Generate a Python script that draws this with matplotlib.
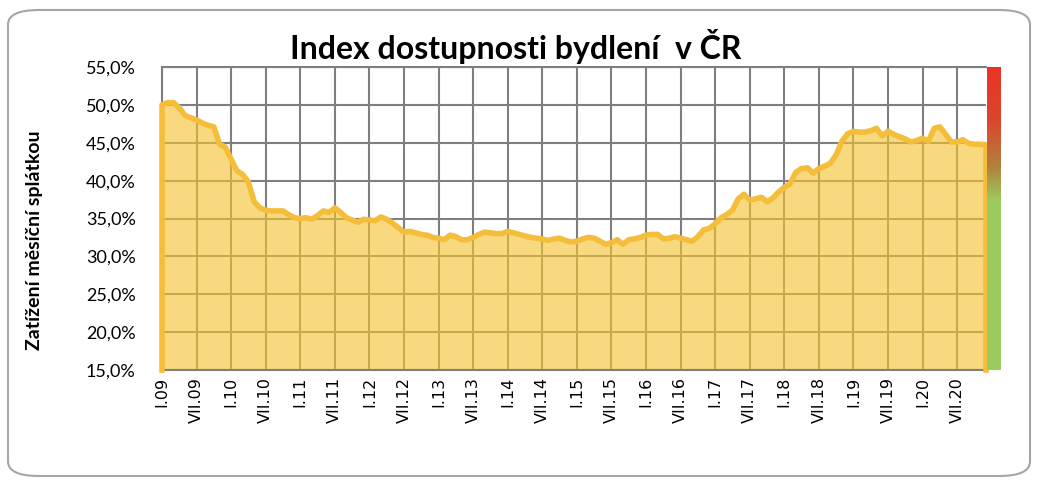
import numpy as np
import matplotlib.pyplot as plt
from matplotlib.colors import LinearSegmentedColormap
from matplotlib.patches import FancyBboxPatch

# monthly index values I.2009 - XII.2020 (%)
values = [
    50.0, 50.3, 50.3, 49.6, 48.6, 48.3, 48.0, 47.6, 47.3, 47.1, 44.8, 44.4,
    42.8, 41.3, 40.8, 39.8, 37.2, 36.4, 36.1, 36.0, 36.0, 36.0, 35.5, 35.1,
    35.0, 35.1, 34.9, 35.4, 36.0, 35.8, 36.4, 35.8, 35.1, 34.8, 34.5, 34.9,
    34.8, 34.7, 35.2, 34.9, 34.4, 33.8, 33.2, 33.3, 33.1, 32.9, 32.8, 32.5,
    32.4, 32.2, 32.8, 32.6, 32.2, 32.2, 32.5, 32.9, 33.2, 33.1, 33.0, 33.0,
    33.3, 33.1, 32.9, 32.7, 32.5, 32.4, 32.3, 32.1, 32.3, 32.4, 32.1, 31.9,
    32.0, 32.3, 32.5, 32.4, 32.0, 31.6, 31.8, 32.2, 31.6, 32.2, 32.3, 32.5,
    32.8, 32.9, 32.9, 32.3, 32.4, 32.6, 32.4, 32.2, 32.0, 32.6, 33.5, 33.7,
    34.3, 35.1, 35.5, 36.1, 37.6, 38.2, 37.4, 37.6, 37.8, 37.2, 37.7, 38.5,
    39.1, 39.6, 41.1, 41.6, 41.7, 41.0, 41.6, 41.9, 42.3, 43.4, 45.2, 46.2,
    46.5, 46.4, 46.4, 46.6, 46.9, 45.9, 46.5, 46.1, 45.8, 45.5, 45.1, 45.3,
    45.6, 45.2, 46.9, 47.1, 46.1, 45.1, 45.1, 45.4, 44.9, 44.8, 44.8, 44.7,
]
years = list(range(9, 21))
tick_labels = []
for y in years:
    tick_labels += [f'I.{y:02d}', f'VII.{y:02d}']
y_ticks = [15, 20, 25, 30, 35, 40, 45, 50, 55]

months = np.arange(len(values))
last = months[-1]

W, H = 1038, 484
fig = plt.figure(figsize=(W / 100, H / 100), dpi=100)

# rounded frame around the whole chart
frame = FancyBboxPatch((8 / W, 8 / H), 1022 / W, 466 / H,
                       boxstyle='round,pad=0,rounding_size=0.03',
                       transform=fig.transFigure, fill=False,
                       edgecolor='#A6A6A6', lw=1.5)
fig.patches.append(frame)

ax = fig.add_axes([162 / W, 1 - 370 / H, 824 / W, 303 / H])

ax.fill_between(months, values, 15, color='#F4C330', alpha=0.62,
                lw=0, zorder=2)
outline_x = np.concatenate([[0], months, [last]])
outline_y = np.concatenate([[15], values, [15]])
ax.plot(outline_x, outline_y, color='#F5BE3A', lw=4,
        solid_joinstyle='round', zorder=3, clip_on=False)

ax.set_xlim(0, last)
ax.set_ylim(15, 55)

ax.set_xticks(np.arange(0, len(tick_labels) * 6, 6))
ax.set_xticklabels(tick_labels, rotation=90, fontsize=11.5,
                   family='DejaVu Sans')
ax.set_yticks(y_ticks)
ax.set_yticklabels([f'{v:.1f}%'.replace('.', ',') for v in y_ticks],
                   fontsize=13, family='Lato')
ax.tick_params(axis='x', length=0, pad=5)
ax.tick_params(axis='y', length=0, pad=19)

ax.grid(True, color='#7F7F7F', lw=1.5, zorder=1)
ax.set_axisbelow(True)
for side in ax.spines.values():
    side.set_color('#7F7F7F')
    side.set_linewidth(1.5)
ax.spines['right'].set_visible(False)

# colour bar on the right edge (green -> red)
cax = fig.add_axes([987 / W, 1 - 370 / H, 14 / W, 303 / H])
cmap = LinearSegmentedColormap.from_list('risk', [
    (0.0, '#9CCB5E'), (0.56, '#9CCB5E'), (0.67, '#B2823E'),
    (0.82, '#D8482C'), (1.0, '#EC3226')])
cax.imshow(np.linspace(0, 1, 256).reshape(-1, 1), cmap=cmap,
           aspect='auto', origin='lower', extent=[0, 1, 0, 1])
cax.set_axis_off()

fig.text(0.497, 1 - 46 / H, 'Index dostupnosti bydlení  v ČR',
         ha='center', va='center', fontsize=23, fontweight='bold',
         family='Lato')
fig.text(35 / W, 1 - 240 / H, 'Zatížení měsíční splátkou',
         ha='center', va='center', rotation=90, fontsize=14,
         fontweight='bold', family='Lato')

fig.savefig('out.png', dpi=100)
